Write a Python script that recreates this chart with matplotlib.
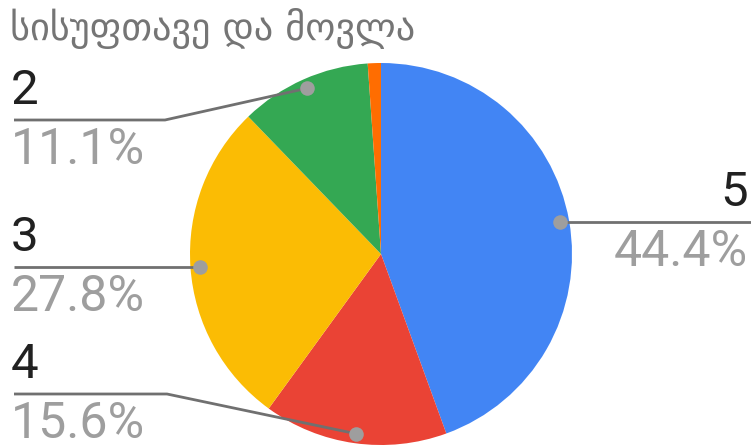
import numpy as np
import matplotlib.pyplot as plt

title = "სისუფთავე და მოვლა"
labels = ["5", "4", "3", "2", "1"]
counts = [40, 14, 25, 10, 1]
colors = ["#4285F4", "#EA4335", "#FBBC04", "#34A853", "#FF6D01"]

W, H = 751, 448
fig = plt.figure(figsize=(W / 100, H / 100), dpi=100)
ax = fig.add_axes([0, 0, 1, 1])

cx, cy, R = 381, H - 254, 191
ax.pie(counts, colors=colors, startangle=90, counterclock=False,
       center=(cx, cy), radius=R, wedgeprops=dict(linewidth=0))
ax.set_xlim(0, W)
ax.set_ylim(0, H)
ax.set_aspect("equal")
ax.axis("off")

# label layout: side, line y (pixels from top, None = level with dot), elbow x
layout = {
    "5": ("right", None, None),
    "4": ("left", 394, 167),
    "3": ("left", None, None),
    "2": ("left", 120, 165),
}

total = sum(counts)
cum = np.cumsum([0] + counts[:-1])
line_c = "#707070"
for lab, c, v in zip(labels, cum, counts):
    if lab not in layout:
        continue
    side, ly, elbow = layout[lab]
    ang = np.deg2rad(90 - 360 * (c + v / 2) / total)
    dx, dy = cx + 0.95 * R * np.cos(ang), cy + 0.95 * R * np.sin(ang)
    ly = dy if ly is None else H - ly
    if side == "right":
        xs, ys = [dx, W], [ly, ly]
        tx, ha = W - 3, "right"
    else:
        if elbow is None:
            xs, ys = [14, dx], [ly, ly]
        else:
            xs, ys = [14, elbow, dx], [ly, ly, dy]
        tx, ha = 11, "left"
    ax.plot(xs, ys, color=line_c, lw=2, solid_capstyle="butt", zorder=3)
    ax.scatter([dx], [dy], s=110, color="#9E9E9E", zorder=4, linewidths=0)
    ax.text(tx, ly + 16, lab, ha=ha, va="baseline", fontsize=35.5,
            family="Roboto", color="#212121")
    ax.text(tx, ly - 44, "%.1f%%" % (100 * v / total), ha=ha, va="baseline",
            fontsize=36, family="Roboto", color="#9E9E9E")

ax.text(10, H - 28, title, ha="left", va="center", fontsize=27.5,
        family=["DejaVu Sans"], color="#757575")

fig.savefig("out.png", dpi=100)
